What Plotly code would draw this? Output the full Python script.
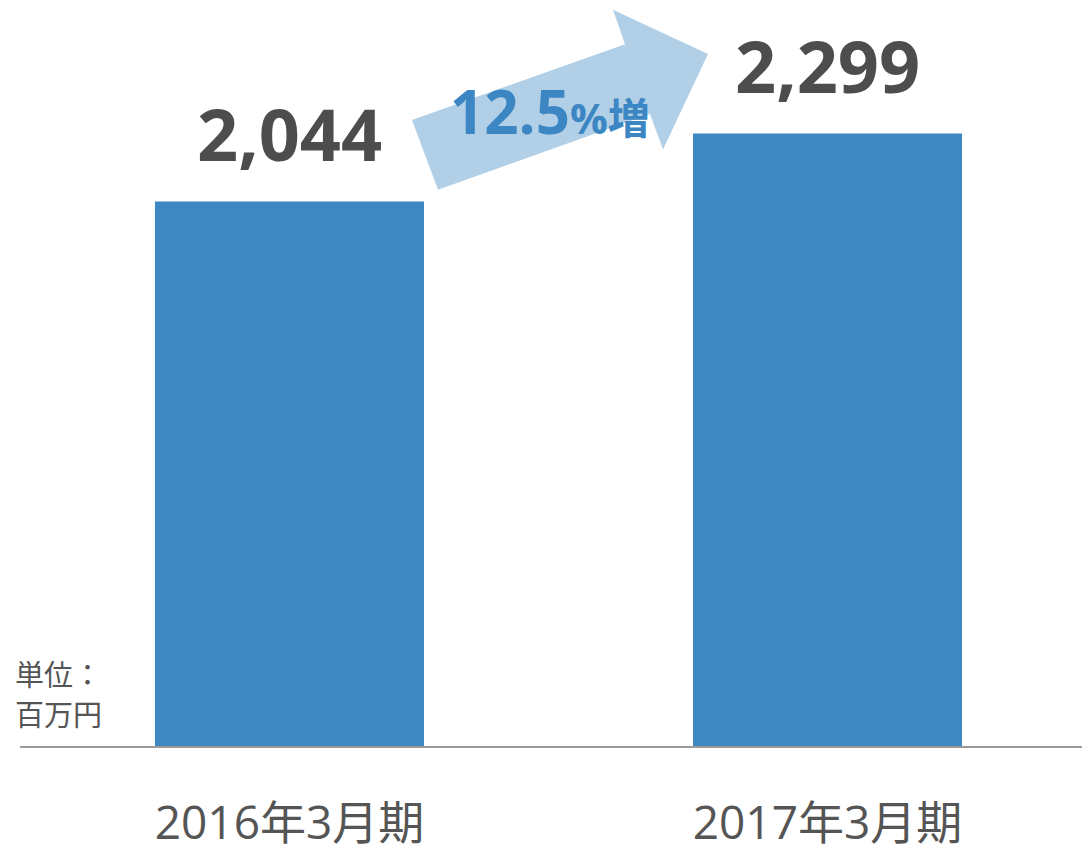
import plotly.graph_objects as go

categories = ["2016年3月期", "2017年3月期"]
values = [2044, 2299]
value_labels = ["2,044", "2,299"]
growth_label = "12.5"
growth_suffix = "%増"
unit_lines = ["単位：", "百万円"]

BAR = "#3d87c2"
ARROW = "#b1d0e7"
DARK = "#4d4d4d"
GREY = "#555555"

W, H = 1082, 852
ML, MR, MT, MB = 20, 0, 0, 93
PW, PH = W - ML - MR, H - MT - MB


def px(x, y):
    """screen pixel -> paper coords"""
    return (x - ML) / PW, (H - MB - y) / PH


fig = go.Figure()
fig.add_trace(go.Bar(x=categories, y=values, width=0.5, marker_color=BAR,
                     marker_line_width=0, hoverinfo="skip"))

for c, v, t in zip(categories, values, value_labels):
    fig.add_annotation(x=c, y=v, text=t, showarrow=False, xanchor="center", yanchor="middle", yshift=68,
                       font=dict(family="Open Sans", size=72, color=DARK, weight="bold"))

# arrow decoration
pts = [(412, 122), (625, 45), (613, 10), (708, 55), (663, 152), (650, 116), (438, 193)]
path = "M " + " L ".join(f"{px(a, b)[0]:.5f},{px(a, b)[1]:.5f}" for a, b in pts) + " Z"
fig.add_shape(type="path", path=path, xref="paper", yref="paper",
              fillcolor=ARROW, line_width=0, layer="below")

gx, gy = px(550, 113)
fig.add_annotation(x=gx, y=gy, xref="paper", yref="paper", showarrow=False,
                   xanchor="center", yanchor="middle",
                   text=f"{growth_label}<span style='font-size:42px'>{growth_suffix}</span>",
                   font=dict(family="Open Sans, Noto Sans CJK JP", size=60, color="#3c87c3", weight="bold"))

for line, ly in zip(unit_lines, [685, 725]):
    ux, uy = px(13, ly)
    fig.add_annotation(x=ux, y=uy, xref="paper", yref="paper", showarrow=False,
                       xanchor="left", yanchor="middle", align="left", text=line,
                       font=dict(family="Noto Sans CJK JP", size=29, color=GREY))

fig.update_layout(
    width=W, height=H, margin=dict(l=ML, r=MR, t=MT, b=MB),
    paper_bgcolor="white", plot_bgcolor="white", showlegend=False,
    xaxis=dict(range=[-0.5009, 1.473], showline=True, linecolor="#9a9a9a", linewidth=2,
               showgrid=False, zeroline=False, ticks="", ticklabelstandoff=36,
               tickfont=dict(family="Open Sans, Noto Sans CJK JP", size=46, color=GREY)),
    yaxis=dict(range=[0, 2800], visible=False, showgrid=False, zeroline=False),
)

fig.write_html("out.html", config={"displayModeBar": False},
               post_script="document.body.style.margin='0';document.body.style.overflow='hidden';")
